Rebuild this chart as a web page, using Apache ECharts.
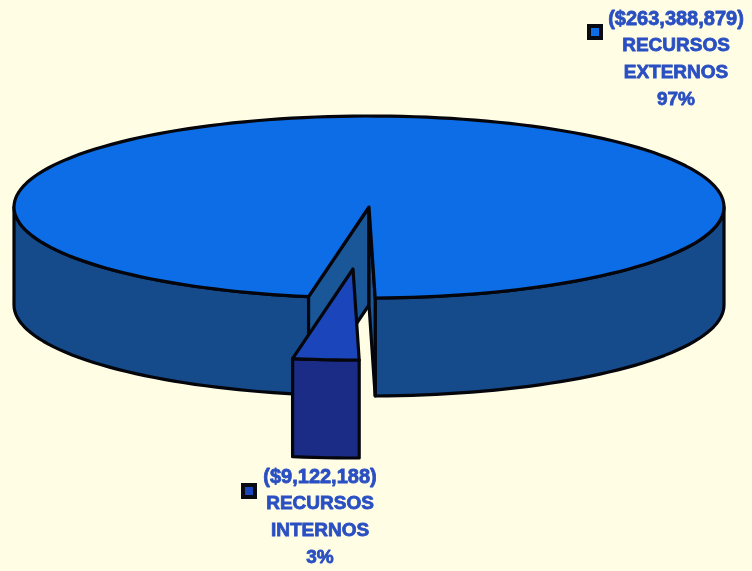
<!DOCTYPE html>
<html>
<head>
<meta charset="utf-8">
<style>
  html, body { margin: 0; padding: 0; background: #fffee4; }
  #chart { width: 752px; height: 571px; filter: blur(0.5px); }
</style>
<script src="https://cdn.jsdelivr.net/npm/echarts@6/dist/echarts.min.js"></script>
</head>
<body>
<div id="chart"></div>
<script>
const names = ["RECURSOS EXTERNOS", "RECURSOS INTERNOS"];
const amounts = ["($263,388,879)", "($9,122,188)"];
const shares = [97, 3];

const topColors = ["#0c6de6", "#1b46bb"];
const sideColors = ["#154b8a", "#1b2c86"];
const wallColor = "#1a5799";
const lineColor = "#05050c";
const textColor = "#2a4fc2";

// pie geometry, hand fitted to the picture
const cx = 369, cy = 207, rx = 355, ry = 91, depth = 98;
const startDeg = 89; // the small slice starts here, clockwise on screen
const explode = [[0, 0], [-16, 62]];
const labelPos = [[676, 19], [320, 477]];
const keyPos = [[587, 24], [241, 483]];

function arc(a0, a1, ox, oy) {
  const pts = [];
  const n = Math.max(2, Math.ceil(Math.abs(a1 - a0) / 2));
  for (let i = 0; i <= n; i++) {
    const t = (a0 + (a1 - a0) * i / n) * Math.PI / 180;
    pts.push([cx + ox + rx * Math.cos(t), cy + oy + ry * Math.sin(t)]);
  }
  return pts;
}

function poly(points, fill) {
  return {
    type: "polygon",
    shape: { points: points },
    style: { fill: fill, stroke: lineColor, lineWidth: 3.2, lineJoin: "round" }
  };
}

// one side band of the rim between two angles
function rim(a0, a1, ox, oy, fill) {
  const upper = arc(a0, a1, ox, oy);
  const lower = upper.map(p => [p[0], p[1] + depth]).reverse();
  return poly(upper.concat(lower), fill);
}

function wall(a, ox, oy) {
  const t = a * Math.PI / 180;
  const ax = cx + ox, ay = cy + oy;
  const ex = ax + rx * Math.cos(t), ey = ay + ry * Math.sin(t);
  return poly([[ax, ay], [ex, ey], [ex, ey + depth], [ax, ay + depth]], wallColor);
}

function renderSlice(params, api) {
  const i = params.dataIndex;
  const small = i === 1;
  const sweep = api.value(0) * 3.6;
  // small slice runs from startDeg, the big one takes the rest of the circle
  const a0 = small ? startDeg : startDeg + shares[1] * 3.6;
  const a1 = a0 + sweep;
  const [ox, oy] = explode[i];
  const kids = [];

  if (small) {
    kids.push(rim(a0, a1, ox, oy, sideColors[i]));
  } else {
    kids.push(rim(a0, 180, ox, oy, sideColors[i]));
    kids.push(rim(360, a1, ox, oy, sideColors[i]));
    kids.push(wall(a0, ox, oy));
    kids.push(wall(a1, ox, oy));
  }
  const rimPts = arc(a0, a1, ox, oy);
  kids.push(poly([[cx + ox, cy + oy]].concat(rimPts), topColors[i]));

  // key square
  kids.push({
    type: "rect",
    shape: { x: keyPos[i][0] + 2, y: keyPos[i][1] + 2, width: 12, height: 12 },
    style: { fill: topColors[i], stroke: "#0a0a12", lineWidth: 4 }
  });

  // label
  const words = names[i].split(" ");
  const lines = [amounts[i], words[0], words[1], shares[i] + "%"];
  lines.forEach((s, k) => {
    kids.push({
      type: "text",
      style: {
        x: labelPos[i][0],
        y: labelPos[i][1] + k * 27,
        text: s,
        fill: textColor,
        stroke: textColor,
        lineWidth: 0.8,
        font: "bold " + (k === 0 ? 20 : 19) + "px 'Liberation Sans', Arial, sans-serif",
        align: "center",
        verticalAlign: "middle"
      }
    });
  });

  return { type: "group", children: kids };
}

const chart = echarts.init(document.getElementById("chart"), null, { renderer: "canvas" });
chart.setOption({
  backgroundColor: "#fffee4",
  animation: false,
  series: [{
    type: "custom",
    coordinateSystem: "none",
    renderItem: renderSlice,
    data: shares,
    silent: true
  }]
});
</script>
</body>
</html>
